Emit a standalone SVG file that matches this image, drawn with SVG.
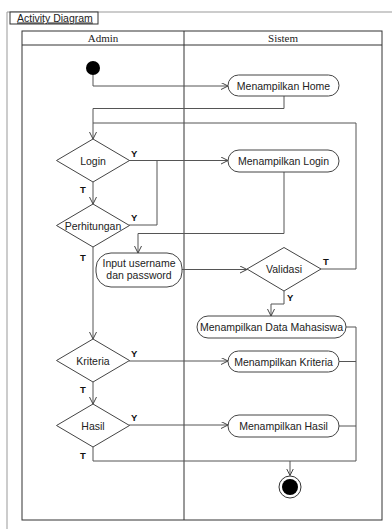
<svg xmlns="http://www.w3.org/2000/svg" width="392" height="529" viewBox="0 0 392 529">
<style>
.lane{fill:none;stroke:#333;stroke-width:1}
.node{fill:#fff;stroke:#444;stroke-width:1}
.t{font-family:"Liberation Sans",Arial,sans-serif;font-size:10.5px;fill:#222;text-anchor:middle}
.h{font-family:"Liberation Serif","Times New Roman",serif;font-size:11px;fill:#222;text-anchor:middle}
.lb{font-family:"Liberation Sans",Arial,sans-serif;font-size:9.5px;font-weight:bold;fill:#111}
.c{fill:none;stroke:#555;stroke-width:1}
</style>
<defs>
<marker id="arr" markerUnits="userSpaceOnUse" markerWidth="10" markerHeight="10" refX="7" refY="3.5" orient="auto">
<path d="M0,0 L7,3.5 L0,7" fill="none" stroke="#444" stroke-width="1"/>
</marker>
</defs>
<rect width="392" height="529" fill="#fff"/>
<g id="frame">
<path d="M7,529 V12 H392" fill="none" stroke="#999" stroke-width="1"/>
<rect x="10" y="12" width="88" height="12" fill="#fff" stroke="#333"/>
<text x="17" y="21.5" font-family="Liberation Sans, Arial, sans-serif" font-size="10.5" fill="#222" text-decoration="underline">Activity Diagram</text>
</g>
<g id="lanes">
<rect class="lane" x="22" y="31" width="360" height="489"/>
<line class="lane" x1="22" y1="45" x2="382" y2="45"/>
<line class="lane" x1="184" y1="31" x2="184" y2="520"/>
<text class="h" x="103" y="41.5">Admin</text>
<text class="h" x="283" y="41.5">Sistem</text>
</g>
<g id="connectors">
<path class="c" d="M93,75 V86 H228" marker-end="url(#arr)"/>
<path class="c" d="M284,96 V108.5 H93 V139" marker-end="url(#arr)"/>
<path class="c" d="M321,269 H356 V123 H93"/>
<path class="c" d="M129,160.5 H228" marker-end="url(#arr)"/>
<path class="c" d="M129,225 H157 V160.5"/>
<path class="c" d="M93,182 V204" marker-end="url(#arr)"/>
<path class="c" d="M284,172 V233.5 H138 V253" marker-end="url(#arr)"/>
<path class="c" d="M182,269.5 H247" marker-end="url(#arr)"/>
<path class="c" d="M284,291 V304 H271 V316" marker-end="url(#arr)"/>
<path class="c" d="M346,327 H356 V461 H290 V475.5" marker-end="url(#arr)"/>
<path class="c" d="M339,361.5 H356"/>
<path class="c" d="M339,426 H356"/>
<path class="c" d="M93,247 V339" marker-end="url(#arr)"/>
<path class="c" d="M129,361 H228" marker-end="url(#arr)"/>
<path class="c" d="M93,382 V404" marker-end="url(#arr)"/>
<path class="c" d="M129,425 H228" marker-end="url(#arr)"/>
<path class="c" d="M93,447 V461 H290"/>
<text class="lb" x="131" y="157">Y</text>
<text class="lb" x="80" y="193">T</text>
<text class="lb" x="131" y="221">Y</text>
<text class="lb" x="80" y="261">T</text>
<text class="lb" x="323" y="265">T</text>
<text class="lb" x="287" y="301">Y</text>
<text class="lb" x="131" y="357">Y</text>
<text class="lb" x="80" y="393">T</text>
<text class="lb" x="131" y="421">Y</text>
<text class="lb" x="80" y="459">T</text>
</g>
<g id="start"><circle cx="93" cy="68" r="7" fill="#000"/></g>
<g id="home"><rect class="node" x="228" y="75" width="111" height="21" rx="10.5"/><text class="t" x="283.5" y="89.5">Menampilkan Home</text></g>
<g id="login"><polygon class="node" points="93,139 129.5,160.5 93,182 56.5,160.5"/><text class="t" x="93" y="164.5">Login</text></g>
<g id="mlogin"><rect class="node" x="228" y="150" width="111" height="22" rx="11"/><text class="t" x="283.5" y="165">Menampilkan Login</text></g>
<g id="perhitungan"><polygon class="node" points="93,204 129.5,225.5 93,247 56.5,225.5"/><text class="t" x="93" y="229.5">Perhitungan</text></g>
<g id="input"><rect class="node" x="96" y="253" width="86" height="34" rx="15"/><text class="t" x="139" y="267">Input username</text><text class="t" x="139" y="279">dan password</text></g>
<g id="validasi"><polygon class="node" points="284,247.5 321,269 284,291 247,269"/><text class="t" x="284" y="273">Validasi</text></g>
<g id="datamhs"><rect class="node" x="197" y="316" width="149" height="22" rx="11"/><text class="t" x="271.5" y="331">Menampilkan Data Mahasiswa</text></g>
<g id="kriteria"><polygon class="node" points="93,339 129.5,360.5 93,382 56.5,360.5"/><text class="t" x="93" y="364.5">Kriteria</text></g>
<g id="mkriteria"><rect class="node" x="228" y="351" width="111" height="21" rx="10.5"/><text class="t" x="283.5" y="365.5">Menampilkan Kriteria</text></g>
<g id="hasil"><polygon class="node" points="93,404 129.5,425.5 93,447 56.5,425.5"/><text class="t" x="93" y="429.5">Hasil</text></g>
<g id="mhasil"><rect class="node" x="228" y="415" width="111" height="22" rx="11"/><text class="t" x="283.5" y="430">Menampilkan Hasil</text></g>
<g id="end"><circle cx="290" cy="487" r="11" fill="#fff" stroke="#333"/><circle cx="290" cy="487" r="8" fill="#000"/></g>
</svg>
